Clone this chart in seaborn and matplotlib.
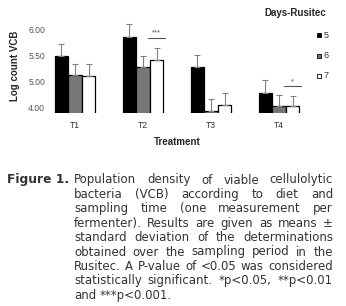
import pandas as pd
import numpy as np
import seaborn as sns
import matplotlib.pyplot as plt
from matplotlib.lines import Line2D

# datos
tratamientos = ["T1", "T2", "T3", "T4"]
dias = ["5", "6", "7"]
media_d5 = [5.50, 5.87, 5.28, 4.79]
media_d6 = [5.13, 5.28, 4.44, 4.53]
media_d7 = [5.11, 5.42, 4.56, 4.53]
sd_d5 = [0.23, 0.24, 0.23, 0.24]
sd_d6 = [0.21, 0.21, 0.23, 0.21]
sd_d7 = [0.23, 0.23, 0.23, 0.19]
yticks_pos = [4.5, 5.0, 5.5, 6.0]
yticks_lab = ["4.00", "5.00", "5.50", "6.00"]

medias = {"5": media_d5, "6": media_d6, "7": media_d7}
sds = {"5": sd_d5, "6": sd_d6, "7": sd_d7}
filas = []
for d in dias:
    for i, t in enumerate(tratamientos):
        filas.append({"Treatment": t, "Dia": d, "media": medias[d][i], "sd": sds[d][i]})
df = pd.DataFrame(filas)

sns.set_style("white")
plt.rcParams['font.family'] = ['Liberation Sans', 'DejaVu Sans']

fig = plt.figure(figsize=(3.46, 3.06), dpi=100)
ax = fig.add_axes([41/346, (306-113)/306, 272/346, (113-19.6)/306])

colores = {"5": "#000000", "6": "#7a7575", "7": "#ffffff"}
sns.barplot(data=df, x="Treatment", y="media", hue="Dia", hue_order=dias,
            palette=colores, width=0.6, edgecolor="black", linewidth=0.9,
            errorbar=None, legend=False, ax=ax)

# barras de error (solo hacia arriba)
for j, d in enumerate(dias):
    cont = ax.containers[j]
    xs = [p.get_x() + p.get_width()/2 for p in cont]
    ys = medias[d]
    ax.errorbar(xs, ys, yerr=[np.zeros(4), sds[d]], fmt="none",
                ecolor="#808080", elinewidth=0.8, capsize=2.2, capthick=0.8, zorder=1)

ax.set_ylim(4.40, 6.2)
ax.set_xlim(-0.5, 3.5)
ax.set_yticks(yticks_pos)
ax.set_yticklabels(yticks_lab, fontsize=6.2, color="#555555")
ax.tick_params(axis="x", labelsize=6.2, colors="#333333", length=0, pad=6)
ax.tick_params(axis="y", length=0, pad=-3)
ax.set_xlabel("Treatment", fontsize=7, fontweight="bold", labelpad=5)
ax.set_ylabel("Log count VCB", fontsize=7, fontweight="bold", labelpad=6)
sns.despine(ax=ax, left=True, bottom=True)

# significancia
for t_idx, marca, altura in [(1, "***", 5.85), (3, "*", 4.92)]:
    p = ax.containers[2][t_idx]
    x0, x1 = p.get_x() - 0.02, p.get_x() + p.get_width() + 0.02
    ax.plot([x0, x1], [altura, altura], color="#555555", lw=0.8)
    ax.text((x0 + x1)/2, altura + 0.02, marca, ha="center", va="bottom", fontsize=5.5, color="#555555")

# leyenda
fig.text(295/346, 1 - 13/306, "Days-Rusitec", ha="center", va="center", fontsize=7, fontweight="bold")
for d, yy in zip(dias, [35, 56, 76]):
    fig.add_artist(Line2D([319/346], [1 - yy/306], marker="s", markersize=3.5,
                          markerfacecolor=colores[d], markeredgecolor="black", markeredgewidth=0.6, linestyle="none"))
    fig.text(324/346, 1 - yy/306, d, ha="left", va="center", fontsize=6.5, color="#333333")

# pie de figura
fig.text(7/346, 1 - 180/306, "Figure 1.", ha="left", va="center", fontsize=8.8,
         fontweight="bold", family="DejaVu Sans", color="#333333")
lineas = [
    "Population density of viable cellulolytic",
    "bacteria (VCB) according to diet and",
    "sampling time (one measurement per",
    "fermenter). Results are given as means ±",
    "standard deviation of the determinations",
    "obtained over the sampling period in the",
    "Rusitec. A P-value of <0.05 was considered",
    "statistically significant. *p<0.05, **p<0.01",
    "and ***p<0.001.",
]
x_ini, x_fin = 74, 333
tam = 8.5
renderer = fig.canvas.get_renderer()
for k, linea in enumerate(lineas):
    yy = 1 - (180 + k*14.4)/306
    palabras = linea.split(" ")
    objs = [fig.text(0, yy, w, ha="left", va="center", fontsize=tam,
                     family="DejaVu Sans", color="#333333") for w in palabras]
    anchos = [o.get_window_extent(renderer).width for o in objs]
    if k < len(lineas) - 1 and len(objs) > 1:
        hueco = max((x_fin - x_ini - sum(anchos)) / (len(objs) - 1), 2)
    else:
        hueco = renderer.points_to_pixels(tam) * 0.32
    x = x_ini
    for o, w in zip(objs, anchos):
        o.set_x(x/346)
        x += w + hueco

plt.savefig("out.png", dpi=100)
